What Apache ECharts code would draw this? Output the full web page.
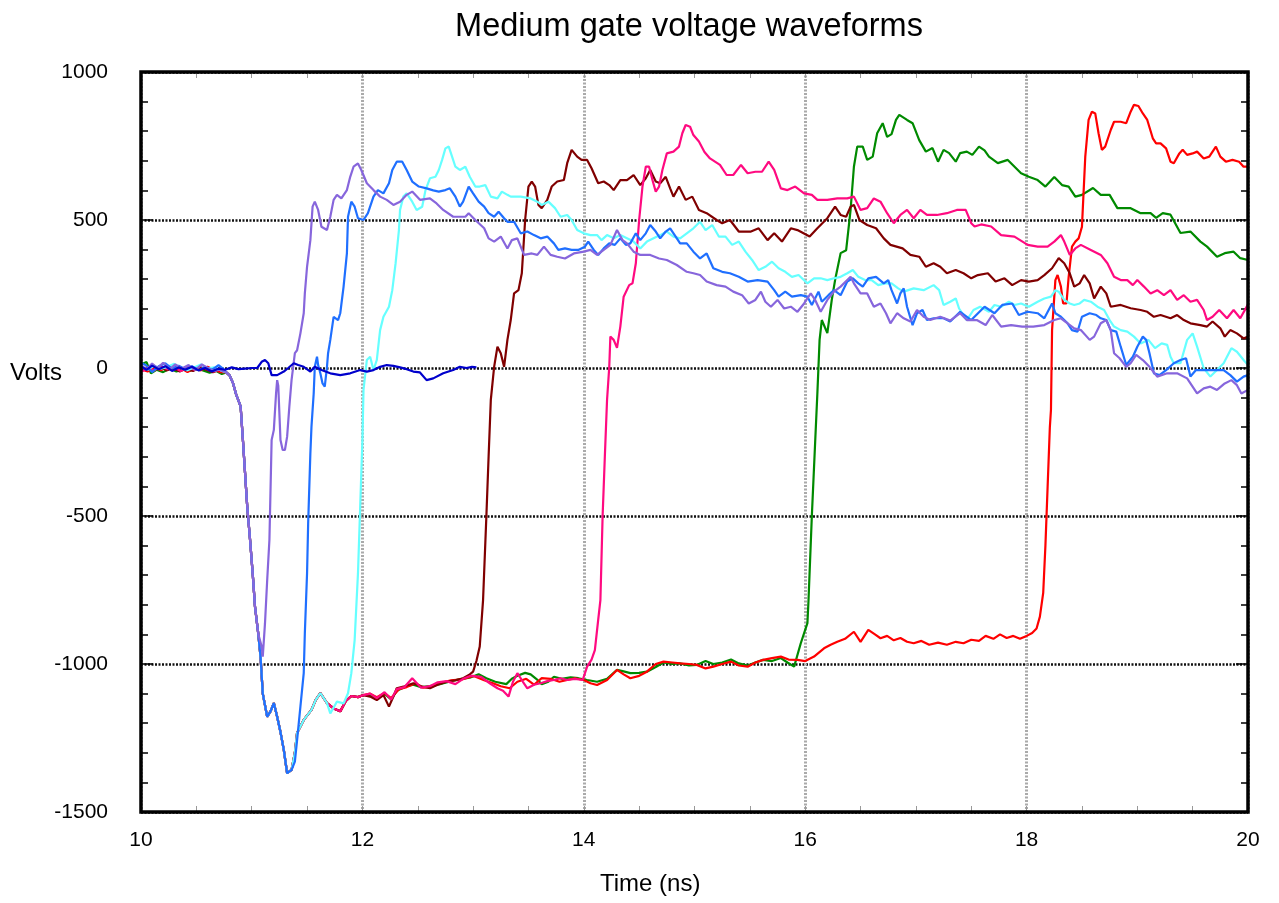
<!DOCTYPE html>
<html>
<head>
<meta charset="utf-8">
<title>Medium gate voltage waveforms</title>
<script src="https://cdn.jsdelivr.net/npm/echarts@6/dist/echarts.min.js"></script>
<style>
  html, body { margin: 0; padding: 0; background: #ffffff; }
  #chart { width: 1279px; height: 903px; }
</style>
</head>
<body>
<div id="chart"></div>
<script>
// Gate voltage (V) versus time (ns), one trace per gate.

const xTicks = [10, 12, 14, 16, 18, 20];
const yTicks = [-1500, -1000, -500, 0, 500, 1000];

// Trigger edge, shared by every gate that switches
const fallEdge = [[10.77,-15],[10.8,-25],[10.83,-50],[10.86,-90],[10.9,-130],[10.92,-240],[10.94,-355],[10.96,-470],[10.985,-580],[11.01,-700],[11.03,-807],[11.06,-900]];
// Negative undershoot
const undershoot = [[11.08,-976],[11.1,-1100],[11.14,-1178],[11.17,-1160],[11.2,-1132],[11.23,-1178],[11.26,-1230],[11.29,-1290],[11.32,-1369],[11.36,-1358]];
// Recovery from the undershoot
const recovery = [[11.39,-1300],[11.41,-1233],[11.47,-1189],[11.54,-1155],[11.58,-1120],[11.62,-1098],[11.68,-1132]];
// Low shelf before the late gates switch
const lowShelf = [[11.74,-1150],[11.8,-1160],[11.85,-1125],[11.9,-1108],[11.96,-1112],[12.01,-1105]];

// Gate that never switches (recorded to 13 ns)
const gateIdle = [[10,5],[10.05,-6],[10.1,8],[10.16,-4],[10.22,6],[10.28,-10],[10.34,2],[10.4,-6],[10.46,4],[10.52,-8],[10.58,0],[10.64,-12],[10.7,-2],[10.76,-6],[10.82,2],[10.88,-4],[10.94,-2],[11.0,0],[11.05,0],[11.09,21],[11.12,27],[11.15,16],[11.18,-24],[11.23,-24],[11.29,-12],[11.33,0],[11.38,16],[11.42,10],[11.47,4],[11.53,-12],[11.57,4],[11.63,-7],[11.71,-18],[11.8,-24],[11.89,-18],[11.98,-7],[12.04,-12],[12.1,-7],[12.16,4],[12.22,10],[12.28,7],[12.34,2],[12.4,-4],[12.46,-12],[12.52,-15],[12.58,-41],[12.64,-35],[12.73,-18],[12.82,-7],[12.88,4],[12.94,0],[12.99,4],[13.03,2]];

// Gate switching at ~11.1 ns
const gate11Base = [[10,10],[10.05,-5],[10.1,15],[10.15,0],[10.2,18],[10.26,-4],[10.31,12],[10.37,-2],[10.43,10],[10.49,-6],[10.55,12],[10.6,0],[10.66,-10],[10.71,-6]];
const gate11Rise = [[11.09,-941],[11.1,-975],[11.12,-863],[11.14,-716],[11.16,-581],[11.17,-412],[11.18,-243],[11.2,-209],[11.22,-86],[11.23,-41],[11.24,-60],[11.26,-243],[11.28,-277],[11.3,-277],[11.32,-232],[11.34,-131],[11.36,-41],[11.39,50],[11.41,60],[11.44,117],[11.47,185],[11.48,252],[11.5,342],[11.53,432],[11.55,545],[11.57,562],[11.6,534],[11.63,477],[11.68,466],[11.71,511],[11.74,568],[11.77,585],[11.81,573],[11.86,601],[11.89,646],[11.92,680],[11.96,691],[11.99,669],[12.04,624],[12.1,601],[12.16,579],[12.22,568],[12.28,551],[12.34,562],[12.4,585],[12.45,596],[12.52,568],[12.61,573],[12.67,556],[12.73,534],[12.82,511],[12.93,511],[12.96,523],[13.02,500],[13.1,472],[13.14,438],[13.19,427],[13.25,444],[13.31,404],[13.35,432],[13.4,438],[13.46,382],[13.53,387],[13.58,382],[13.64,410],[13.7,382],[13.76,376],[13.83,370],[13.91,387],[14.0,393],[14.06,399],[14.12,382],[14.18,399],[14.24,416],[14.3,466],[14.35,432],[14.39,421],[14.45,393],[14.51,382],[14.6,382],[14.68,370],[14.75,365],[14.84,348],[14.93,325],[14.99,320],[15.05,314],[15.11,292],[15.2,280],[15.28,275],[15.35,258],[15.43,246],[15.49,218],[15.55,230],[15.6,258],[15.64,224],[15.69,207],[15.75,230],[15.81,201],[15.87,207],[15.93,190],[15.99,218],[16.05,252],[16.09,230],[16.14,190],[16.2,230],[16.26,258],[16.32,275],[16.38,297],[16.41,308],[16.44,286],[16.5,252],[16.56,252],[16.62,207],[16.68,218],[16.73,185],[16.77,151],[16.83,185],[16.89,168],[16.95,157],[17.01,196],[17.07,173],[17.13,162],[17.22,173],[17.31,160],[17.4,185],[17.46,162],[17.55,162],[17.63,145],[17.69,179],[17.77,140],[17.86,145],[17.96,140],[18.06,140],[18.16,145],[18.25,162],[18.31,168],[18.37,151],[18.43,134],[18.49,128],[18.57,95],[18.61,106],[18.67,151],[18.72,162],[18.76,128],[18.79,50],[18.84,33],[18.9,4],[18.94,16],[18.99,44],[19.05,27],[19.11,4],[19.18,-29],[19.27,-18],[19.36,-18],[19.45,-35],[19.54,-86],[19.6,-69],[19.66,-63],[19.72,-74],[19.79,-52],[19.85,-41],[19.9,-58],[19.94,-86],[20.0,-74]];

// Gate switching at ~11.5 ns
const gate115Base = [[10,18],[10.05,8],[10.1,-14],[10.16,6],[10.22,16],[10.28,-2],[10.34,8],[10.4,-4],[10.46,6],[10.52,-8],[10.58,4],[10.64,-6],[10.7,10],[10.74,-2]];
const gate115Rise = [[11.39,-1330],[11.41,-1257],[11.44,-1144],[11.47,-1031],[11.48,-896],[11.5,-694],[11.51,-525],[11.53,-288],[11.54,-198],[11.56,-86],[11.57,4],[11.59,38],[11.6,10],[11.62,-18],[11.64,-52],[11.66,-63],[11.68,4],[11.69,50],[11.71,95],[11.74,173],[11.78,162],[11.8,185],[11.83,275],[11.86,387],[11.87,511],[11.9,562],[11.93,545],[11.96,506],[12.01,500],[12.05,523],[12.1,579],[12.14,601],[12.19,590],[12.24,624],[12.27,669],[12.31,697],[12.36,697],[12.4,669],[12.45,630],[12.51,613],[12.58,607],[12.64,600],[12.69,596],[12.75,601],[12.79,607],[12.84,579],[12.88,545],[12.91,562],[12.96,613],[13.0,590],[13.05,562],[13.1,545],[13.14,523],[13.19,511],[13.23,528],[13.28,506],[13.31,494],[13.37,494],[13.43,455],[13.49,461],[13.55,449],[13.61,438],[13.67,444],[13.73,421],[13.77,399],[13.83,404],[13.89,399],[13.95,399],[14.01,410],[14.04,427],[14.09,399],[14.13,382],[14.18,404],[14.23,421],[14.28,416],[14.33,438],[14.38,416],[14.42,421],[14.47,455],[14.51,432],[14.56,455],[14.6,483],[14.65,461],[14.69,438],[14.74,461],[14.78,472],[14.83,444],[14.87,421],[14.93,421],[14.99,393],[15.05,370],[15.11,387],[15.17,337],[15.25,325],[15.32,320],[15.4,308],[15.48,292],[15.57,297],[15.66,292],[15.72,263],[15.76,241],[15.82,258],[15.88,241],[15.96,246],[16.02,241],[16.06,213],[16.12,258],[16.15,224],[16.21,246],[16.26,263],[16.32,246],[16.38,292],[16.43,303],[16.48,286],[16.52,275],[16.57,303],[16.64,308],[16.71,286],[16.75,297],[16.78,263],[16.83,218],[16.86,252],[16.89,269],[16.92,207],[16.97,145],[17.01,185],[17.06,196],[17.1,162],[17.16,168],[17.25,168],[17.31,157],[17.4,190],[17.5,162],[17.62,207],[17.71,185],[17.78,213],[17.87,218],[17.93,179],[18.01,190],[18.1,185],[18.16,168],[18.23,218],[18.26,185],[18.31,173],[18.37,151],[18.41,128],[18.46,123],[18.5,173],[18.57,185],[18.63,179],[18.67,168],[18.72,162],[18.76,128],[18.81,123],[18.85,72],[18.9,10],[18.96,38],[19.0,72],[19.05,106],[19.08,95],[19.11,50],[19.15,-18],[19.2,-24],[19.26,-7],[19.33,16],[19.39,27],[19.44,33],[19.48,-29],[19.53,-7],[19.6,-7],[19.69,-7],[19.78,-7],[19.84,-24],[19.9,-46],[19.96,-29],[20.0,-24]];

// Gate switching at ~12 ns
const gate12Base = [[10,4],[10.06,-6],[10.12,8],[10.18,-2],[10.24,4],[10.3,14],[10.36,0],[10.42,-8],[10.48,2],[10.54,12],[10.6,-2],[10.66,2],[10.72,-8]];
const gate12Rise = [[11.71,-1167],[11.77,-1127],[11.83,-1133],[11.87,-1099],[11.9,-1031],[11.93,-919],[11.96,-694],[11.98,-469],[12.0,-243],[12.01,-74],[12.04,27],[12.07,38],[12.1,-7],[12.13,27],[12.15,95],[12.16,128],[12.19,173],[12.24,207],[12.27,263],[12.3,354],[12.33,466],[12.34,534],[12.37,579],[12.4,590],[12.45,562],[12.49,534],[12.54,545],[12.57,601],[12.61,641],[12.66,646],[12.69,669],[12.72,703],[12.75,742],[12.78,748],[12.81,714],[12.84,680],[12.88,669],[12.93,680],[12.97,646],[13.02,613],[13.06,613],[13.11,618],[13.16,579],[13.22,573],[13.26,596],[13.31,585],[13.34,579],[13.43,579],[13.52,573],[13.58,562],[13.62,551],[13.68,562],[13.74,540],[13.79,511],[13.85,517],[13.89,500],[13.94,466],[14.0,455],[14.06,449],[14.12,449],[14.16,432],[14.21,449],[14.27,438],[14.33,449],[14.39,438],[14.45,427],[14.51,404],[14.57,427],[14.63,438],[14.69,449],[14.75,461],[14.81,444],[14.87,438],[14.93,455],[14.99,472],[15.05,494],[15.1,466],[15.16,483],[15.22,444],[15.28,444],[15.34,416],[15.4,427],[15.46,393],[15.52,365],[15.58,331],[15.64,342],[15.7,359],[15.76,337],[15.82,325],[15.88,308],[15.94,314],[16.02,286],[16.08,303],[16.14,303],[16.2,297],[16.26,303],[16.32,308],[16.38,320],[16.43,331],[16.48,308],[16.54,297],[16.6,297],[16.66,280],[16.72,286],[16.78,286],[16.84,269],[16.89,258],[16.98,269],[17.07,263],[17.16,280],[17.21,263],[17.25,213],[17.31,224],[17.36,235],[17.39,201],[17.46,162],[17.52,196],[17.58,207],[17.66,190],[17.71,213],[17.77,207],[17.84,224],[17.89,213],[17.95,218],[18.02,207],[18.1,224],[18.16,235],[18.22,241],[18.26,263],[18.29,258],[18.34,230],[18.39,218],[18.43,213],[18.48,218],[18.52,230],[18.58,224],[18.64,207],[18.7,196],[18.75,162],[18.79,140],[18.85,128],[18.91,123],[18.97,106],[19.03,83],[19.1,95],[19.16,67],[19.22,83],[19.27,78],[19.3,38],[19.33,16],[19.39,16],[19.45,95],[19.5,117],[19.54,72],[19.6,-1],[19.66,-29],[19.72,-7],[19.78,16],[19.85,67],[19.9,55],[19.96,27],[20.0,10]];

// Gate switching at ~13.1 ns
const gate13Base = [[10,-6],[10.05,2],[10.11,-10],[10.17,4],[10.23,-8],[10.29,0],[10.35,-12],[10.41,-2],[10.47,-10],[10.53,2],[10.59,-6],[10.65,-14],[10.71,-4]];
const gate13Rise = [[12.07,-1110],[12.13,-1122],[12.19,-1105],[12.24,-1144],[12.28,-1110],[12.31,-1082],[12.38,-1075],[12.46,-1065],[12.53,-1075],[12.61,-1082],[12.68,-1070],[12.76,-1060],[12.84,-1055],[12.91,-1048],[12.97,-1035],[13.0,-1026],[13.03,-990],[13.06,-941],[13.09,-784],[13.12,-500],[13.14,-300],[13.16,-108],[13.19,4],[13.22,72],[13.25,50],[13.28,4],[13.31,95],[13.34,162],[13.37,252],[13.41,263],[13.44,320],[13.47,500],[13.5,613],[13.53,630],[13.56,613],[13.59,551],[13.62,540],[13.67,568],[13.71,613],[13.76,630],[13.82,635],[13.85,692],[13.89,737],[13.94,714],[13.98,703],[14.03,703],[14.07,675],[14.13,624],[14.18,630],[14.23,618],[14.27,601],[14.33,635],[14.39,635],[14.45,652],[14.51,618],[14.56,641],[14.6,669],[14.65,630],[14.69,624],[14.74,646],[14.78,607],[14.81,579],[14.86,613],[14.92,568],[14.98,579],[15.04,534],[15.11,523],[15.2,500],[15.25,489],[15.32,500],[15.4,461],[15.51,461],[15.58,472],[15.66,432],[15.72,455],[15.79,427],[15.87,472],[15.93,466],[16.04,444],[16.11,472],[16.2,506],[16.27,545],[16.32,517],[16.37,511],[16.41,545],[16.44,551],[16.49,500],[16.56,483],[16.64,472],[16.71,438],[16.77,416],[16.88,404],[16.95,382],[17.03,376],[17.09,342],[17.16,354],[17.22,342],[17.28,320],[17.36,331],[17.43,320],[17.5,303],[17.56,314],[17.65,320],[17.72,292],[17.8,303],[17.87,280],[17.95,297],[18.02,292],[18.1,297],[18.16,314],[18.23,337],[18.29,371],[18.34,354],[18.39,320],[18.43,275],[18.48,286],[18.52,314],[18.57,286],[18.61,235],[18.67,275],[18.72,252],[18.76,207],[18.85,213],[18.94,202],[19.03,196],[19.09,190],[19.15,173],[19.21,179],[19.3,168],[19.36,179],[19.42,162],[19.48,151],[19.57,145],[19.63,140],[19.68,157],[19.75,134],[19.79,106],[19.84,128],[19.9,117],[19.96,100],[20.0,106]];

// Gate switching at ~14.2 ns
const gate14Base = [[10,-14],[10.06,0],[10.12,-8],[10.18,6],[10.24,-4],[10.3,2],[10.36,-10],[10.42,4],[10.48,-6],[10.54,8],[10.6,-4],[10.66,-12],[10.72,-2]];
const gate14Rise = [[12.07,-1100],[12.13,-1115],[12.2,-1095],[12.26,-1120],[12.31,-1085],[12.38,-1078],[12.45,-1048],[12.53,-1080],[12.61,-1075],[12.68,-1062],[12.76,-1058],[12.84,-1068],[12.91,-1050],[12.98,-1040],[13.07,-1043],[13.15,-1065],[13.22,-1082],[13.27,-1090],[13.32,-1110],[13.36,-1060],[13.4,-1031],[13.45,-1060],[13.49,-1082],[13.55,-1070],[13.61,-1065],[13.67,-1058],[13.73,-1054],[13.79,-1048],[13.85,-1054],[13.92,-1050],[13.99,-1054],[14.03,-1009],[14.07,-985],[14.1,-953],[14.13,-851],[14.15,-784],[14.17,-500],[14.19,-300],[14.21,-108],[14.23,4],[14.24,106],[14.27,95],[14.3,68],[14.33,140],[14.36,241],[14.41,280],[14.44,286],[14.47,354],[14.5,500],[14.53,613],[14.56,680],[14.59,680],[14.62,635],[14.65,596],[14.68,613],[14.71,669],[14.75,725],[14.81,731],[14.86,748],[14.89,793],[14.92,821],[14.96,815],[14.99,787],[15.04,765],[15.09,730],[15.14,708],[15.23,686],[15.29,652],[15.35,652],[15.42,686],[15.48,658],[15.55,663],[15.61,663],[15.67,697],[15.72,669],[15.78,607],[15.84,601],[15.91,613],[15.99,590],[16.06,585],[16.11,568],[16.2,568],[16.29,573],[16.38,573],[16.44,579],[16.5,534],[16.56,540],[16.62,573],[16.68,562],[16.74,523],[16.8,489],[16.86,517],[16.92,534],[16.98,506],[17.04,534],[17.1,517],[17.19,517],[17.28,523],[17.37,534],[17.45,534],[17.5,489],[17.53,478],[17.59,485],[17.68,478],[17.77,449],[17.89,444],[18.01,416],[18.1,410],[18.19,410],[18.25,427],[18.31,449],[18.34,427],[18.39,382],[18.44,404],[18.49,416],[18.58,399],[18.67,382],[18.73,354],[18.79,308],[18.85,297],[18.91,297],[18.96,280],[19.0,297],[19.06,275],[19.12,252],[19.18,263],[19.24,246],[19.3,263],[19.36,230],[19.42,246],[19.48,224],[19.54,230],[19.6,196],[19.63,162],[19.68,173],[19.74,196],[19.81,168],[19.87,196],[19.93,168],[20.0,215]];

// Gate switching at ~16 ns
const gate16Base = [[10,12],[10.05,20],[10.09,-18],[10.14,-6],[10.2,-14],[10.26,-2],[10.32,-12],[10.38,-4],[10.44,-10],[10.5,0],[10.56,-8],[10.62,-16],[10.68,-10],[10.73,-20]];
const gate16Rise = [[12.07,-1105],[12.13,-1118],[12.2,-1100],[12.26,-1120],[12.31,-1090],[12.4,-1075],[12.46,-1070],[12.53,-1078],[12.61,-1075],[12.7,-1068],[12.8,-1058],[12.9,-1050],[12.98,-1045],[13.05,-1035],[13.12,-1048],[13.2,-1060],[13.3,-1068],[13.35,-1050],[13.4,-1040],[13.47,-1030],[13.52,-1035],[13.57,-1050],[13.62,-1068],[13.68,-1060],[13.73,-1043],[13.8,-1050],[13.88,-1045],[13.95,-1048],[14.03,-1054],[14.12,-1060],[14.21,-1050],[14.3,-1020],[14.36,-1025],[14.42,-1031],[14.5,-1030],[14.57,-1026],[14.65,-1010],[14.72,-995],[14.8,-1000],[14.87,-998],[14.95,-1005],[15.02,-1003],[15.1,-990],[15.17,-1000],[15.25,-995],[15.33,-985],[15.4,-998],[15.48,-1005],[15.55,-995],[15.62,-986],[15.7,-990],[15.78,-980],[15.84,-995],[15.9,-1009],[15.96,-930],[16.02,-862],[16.03,-784],[16.06,-500],[16.09,-250],[16.11,-85],[16.13,95],[16.15,162],[16.2,118],[16.24,230],[16.27,297],[16.32,388],[16.37,398],[16.41,534],[16.44,680],[16.47,748],[16.52,748],[16.56,703],[16.61,714],[16.65,793],[16.7,827],[16.74,781],[16.78,790],[16.82,838],[16.85,855],[16.92,838],[16.97,827],[17.03,770],[17.09,731],[17.15,743],[17.2,697],[17.25,737],[17.3,726],[17.36,697],[17.4,726],[17.46,731],[17.51,720],[17.57,748],[17.62,735],[17.66,714],[17.74,692],[17.83,703],[17.95,658],[18.02,646],[18.1,635],[18.17,613],[18.25,645],[18.32,618],[18.38,613],[18.44,579],[18.5,585],[18.6,608],[18.67,585],[18.75,585],[18.82,540],[18.94,540],[19.03,523],[19.12,523],[19.17,507],[19.23,523],[19.3,518],[19.39,456],[19.48,461],[19.57,427],[19.63,410],[19.72,376],[19.79,388],[19.87,393],[19.93,371],[20.0,365]];

// Gate switching at ~18.2 ns
const gate18Base = [[10,-4],[10.06,-12],[10.12,2],[10.18,-8],[10.24,6],[10.3,-6],[10.36,0],[10.42,-14],[10.48,-2],[10.54,-8],[10.6,4],[10.66,-6],[10.72,-14]];
const gate18Rise = [[12.07,-1100],[12.13,-1112],[12.2,-1098],[12.26,-1115],[12.33,-1085],[12.4,-1078],[12.48,-1065],[12.55,-1080],[12.62,-1078],[12.7,-1065],[12.8,-1055],[12.9,-1052],[13.0,-1040],[13.1,-1055],[13.18,-1065],[13.25,-1075],[13.33,-1082],[13.4,-1060],[13.48,-1050],[13.55,-1070],[13.62,-1048],[13.7,-1050],[13.78,-1060],[13.85,-1054],[13.92,-1048],[14.0,-1054],[14.06,-1065],[14.12,-1071],[14.21,-1054],[14.3,-1020],[14.36,-1035],[14.42,-1048],[14.5,-1040],[14.57,-1026],[14.65,-1000],[14.72,-992],[14.8,-995],[14.87,-998],[14.95,-1000],[15.02,-1003],[15.1,-1015],[15.17,-1009],[15.25,-1000],[15.33,-992],[15.4,-1005],[15.48,-1009],[15.55,-995],[15.62,-986],[15.7,-980],[15.78,-975],[15.85,-985],[15.93,-986],[16.0,-990],[16.08,-975],[16.17,-947],[16.23,-935],[16.29,-925],[16.36,-915],[16.44,-891],[16.5,-925],[16.57,-885],[16.63,-900],[16.68,-913],[16.74,-905],[16.8,-920],[16.86,-912],[16.92,-925],[16.98,-930],[17.05,-922],[17.12,-935],[17.2,-928],[17.28,-935],[17.36,-925],[17.43,-930],[17.5,-918],[17.57,-922],[17.63,-905],[17.7,-915],[17.76,-900],[17.82,-912],[17.88,-905],[17.94,-915],[18.0,-905],[18.05,-895],[18.09,-880],[18.12,-840],[18.15,-760],[18.17,-600],[18.19,-400],[18.21,-200],[18.22,-142],[18.23,128],[18.26,297],[18.28,314],[18.31,275],[18.33,218],[18.36,218],[18.38,308],[18.41,410],[18.44,427],[18.47,438],[18.5,477],[18.53,714],[18.56,838],[18.59,866],[18.62,860],[18.65,793],[18.68,737],[18.71,748],[18.76,804],[18.79,832],[18.85,832],[18.9,827],[18.94,866],[18.97,889],[19.01,885],[19.05,860],[19.09,838],[19.14,776],[19.17,759],[19.21,759],[19.26,742],[19.3,697],[19.33,692],[19.38,725],[19.41,737],[19.45,720],[19.5,725],[19.54,731],[19.6,708],[19.65,714],[19.71,748],[19.75,714],[19.8,697],[19.86,703],[19.92,697],[19.96,680],[20.0,680]];

// Assemble full traces
const trace11 = [...gate11Base, ...fallEdge, ...gate11Rise];
const trace115 = [...gate115Base, ...fallEdge, ...undershoot, ...gate115Rise];
const trace12 = [...gate12Base, ...fallEdge, ...undershoot, ...recovery, ...gate12Rise];
const trace13 = [...gate13Base, ...fallEdge, ...undershoot, ...recovery, ...lowShelf, ...gate13Rise];
const trace14 = [...gate14Base, ...fallEdge, ...undershoot, ...recovery, ...lowShelf, ...gate14Rise];
const trace16 = [...gate16Base, ...fallEdge, ...undershoot, ...recovery, ...lowShelf, ...gate16Rise];
const trace18 = [...gate18Base, ...fallEdge, ...undershoot, ...recovery, ...lowShelf, ...gate18Rise];

const FONT = '"Liberation Sans", Arial, Helvetica, sans-serif';

function trace(name, data, color) {
  return {
    name: name,
    type: 'line',
    data: data,
    showSymbol: false,
    symbol: 'none',
    lineStyle: { color: color, width: 2.2 },
    itemStyle: { color: color },
    animation: false,
    clip: true,
    z: 3
  };
}

const chart = echarts.init(document.getElementById('chart'), null, { renderer: 'canvas' });

const xBase = {
  type: 'value',
  min: xTicks[0],
  max: xTicks[xTicks.length - 1],
  interval: 2,
  axisLine: { show: false, onZero: false },
  axisTick: { show: true, inside: true, length: 6, lineStyle: { color: '#999', width: 1 } },
  minorTick: { show: true, splitNumber: 4, length: 6, lineStyle: { color: '#999', width: 1 } },
  minorSplitLine: { show: false }
};

const yBase = {
  type: 'value',
  min: yTicks[0],
  max: yTicks[yTicks.length - 1],
  interval: 500,
  axisLine: { show: false, onZero: false },
  axisTick: { show: true, inside: true, length: 12, lineStyle: { color: '#000', width: 1.5 } },
  minorTick: { show: true, splitNumber: 5, length: 7, lineStyle: { color: '#000', width: 1.5 } },
  minorSplitLine: { show: false }
};

chart.setOption({
  backgroundColor: '#ffffff',
  animation: false,
  title: {
    text: 'Medium gate voltage waveforms',
    left: 684,
    top: 6,
    textAlign: 'center',
    textStyle: { fontFamily: FONT, fontSize: 32.5, fontWeight: 'normal', color: '#000' }
  },
  grid: {
    left: 141, top: 72, width: 1107, height: 740,
    show: true, borderColor: '#000', borderWidth: 3.5, backgroundColor: 'transparent', z: 10
  },
  xAxis: [
    Object.assign({}, xBase, {
      position: 'bottom',
      axisLabel: { show: true, margin: 18, fontFamily: FONT, fontSize: 21, color: '#000',
        formatter: function (v) { return String(v); } },
      splitLine: { show: true, lineStyle: { color: '#aaaaaa', width: 3, type: [2, 1.5] } }
    }),
    Object.assign({}, xBase, {
      position: 'top',
      axisLabel: { show: false },
      splitLine: { show: false }
    })
  ],
  yAxis: [
    Object.assign({}, yBase, {
      position: 'left',
      axisLabel: { show: true, margin: 33, fontFamily: FONT, fontSize: 21, color: '#000',
        formatter: function (v) { return String(v); } },
      splitLine: { show: true, lineStyle: { color: '#111', width: 2.5, type: [2, 1.5] } }
    }),
    Object.assign({}, yBase, {
      position: 'right',
      axisLabel: { show: false },
      splitLine: { show: false }
    })
  ],
  graphic: [
    { type: 'text', left: 10, top: 361, style: { text: 'Volts', font: '24px ' + FONT, fill: '#000' } },
    { type: 'text', left: 600, top: 872, style: { text: 'Time (ns)', font: '24px ' + FONT, fill: '#000' } }
  ],
  series: [
    trace('16 ns', trace16, '#008a00'),
    trace('18 ns', trace18, '#ff0000'),
    trace('13 ns', trace13, '#800000'),
    trace('14 ns', trace14, '#ff0a80'),
    trace('12 ns', trace12, '#66ffff'),
    trace('11.5 ns', trace115, '#1f6fff'),
    trace('11 ns', trace11, '#8766dc'),
    trace('idle', gateIdle, '#0000cc')
  ]
});
</script>
</body>
</html>
